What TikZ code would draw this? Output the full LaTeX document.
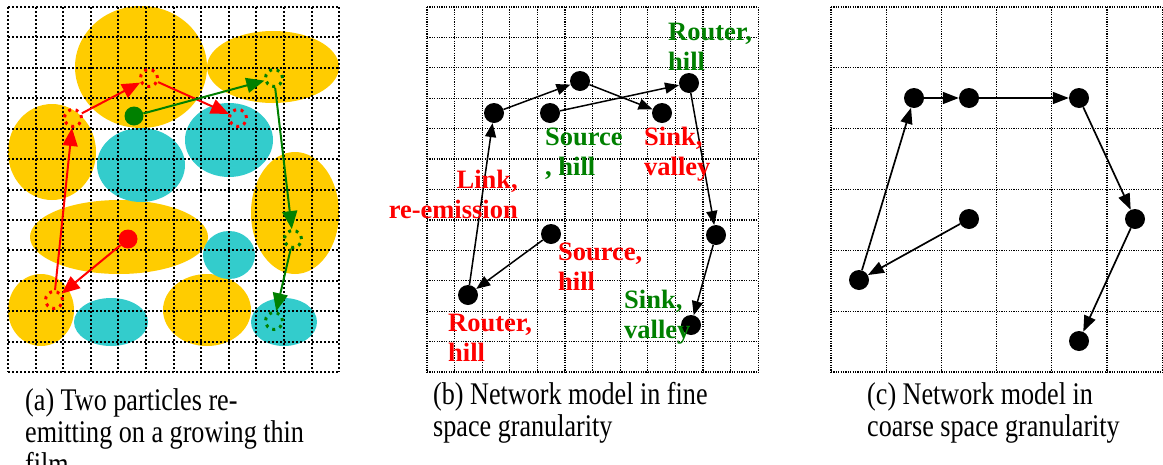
\documentclass[tikz,border=0pt]{standalone}
\usepackage{fontspec}
\setmainfont{Liberation Serif}
\newfontfamily\capfont[FakeStretch=0.83]{Liberation Serif}
\usetikzlibrary{arrows.meta}

\begin{document}
\begin{tikzpicture}[x=1pt, y=-1pt]
    \definecolor{filmy}{RGB}{255,204,0}
    \definecolor{filmc}{RGB}{51,204,204}
    \definecolor{pgreen}{RGB}{0,128,0}
    \definecolor{pred}{RGB}{255,0,0}
    \tikzset{
        finegrid/.style={line width=2pt, dash pattern=on 2pt off 2pt},
        netgrid/.style={line width=1.3pt, dash pattern=on 1.2pt off 1.2pt},
        particle/.style={circle, fill=#1, minimum size=19pt, inner sep=0pt},
        ghost/.style={circle, draw=#1, line width=3pt, dash pattern=on 3pt off 4.6pt,
            minimum size=17pt, inner sep=0pt},
        hop/.style={draw=#1, line width=2pt, -{Triangle[length=18pt,width=15pt,fill=#1]}},
        site/.style={circle, fill=black, minimum size=20pt, inner sep=0pt},
        link/.style={line width=1.5pt, -{Triangle[length=14pt,width=11pt]}},
        coarselink/.style={line width=1.7pt, -{Triangle[length=16pt,width=12pt]}},
        tag/.style={font=\fontsize{26.5}{30}\selectfont\bfseries, text=#1, inner sep=0pt},
        subcap/.style={font=\capfont\fontsize{31.5}{31.8}\selectfont, inner sep=0pt,
            align=left, anchor=base west},
    }
    \useasboundingbox (0,0) rectangle (1163,464);

    \fill[filmy] (141,67) ellipse [x radius=66, y radius=61];
    \fill[filmy] (273,67) ellipse [x radius=66, y radius=36];
    \fill[filmy] (52,152) ellipse [x radius=44, y radius=48];
    \fill[filmy] (119,237) ellipse [x radius=89, y radius=37];
    \fill[filmy] (295,213) ellipse [x radius=44, y radius=61];
    \fill[filmy] (41,310) ellipse [x radius=33, y radius=36];
    \fill[filmy] (207,310) ellipse [x radius=44, y radius=36];
    \fill[filmc] (141,165) ellipse [x radius=44, y radius=37];
    \fill[filmc] (229,140) ellipse [x radius=44, y radius=37];
    \fill[filmc] (229,255) ellipse [x radius=26, y radius=24];
    \fill[filmc] (111,322) ellipse [x radius=37, y radius=24];
    \fill[filmc] (284,322) ellipse [x radius=33, y radius=24];

    \foreach \i in {0,...,12} {
        \draw[finegrid] ({8+27.6*\i},7) -- ({8+27.6*\i},372);
        \draw[finegrid] (8,{7+30.42*\i}) -- (339,{7+30.42*\i});
        \draw[netgrid] ({427+27.6*\i},7) -- ({427+27.6*\i},372);
        \draw[netgrid] (427,{7+30.42*\i}) -- (758,{7+30.42*\i});
    }
    \foreach \i in {0,...,6} {
        \draw[netgrid] ({831+55.2*\i},7) -- ({831+55.2*\i},372);
        \draw[netgrid] (831,{7+60.83*\i}) -- (1162,{7+60.83*\i});
    }

    \node[particle=pred] (rs) at (128,239) {};
    \node[ghost=pred] (ra) at (54,300) {};
    \node[ghost=pred] (rb) at (73,118) {};
    \node[ghost=pred] (rc) at (149,78) {};
    \node[ghost=pred] (rd) at (238,118) {};
    \node[particle=pgreen] (gs) at (134,116) {};
    \node[ghost=pgreen] (ga) at (274,78) {};
    \node[ghost=pgreen] (gb) at (293,239) {};
    \node[ghost=pgreen] (gc) at (274,321) {};
    \draw[hop=pred] (rs) -- (ra);
    \draw[hop=pred] (ra) -- (rb);
    \draw[hop=pred] (rb) -- (rc);
    \draw[hop=pred] (rc) -- (rd);
    \draw[hop=pgreen] (gs) -- (ga);
    \draw[hop=pgreen] (ga) -- (gb);
    \draw[hop=pgreen] (gb) -- (gc);

    \node[site] (fa) at (494,113) {};
    \node[site] (fb) at (580,81) {};
    \node[site] (fc) at (550,113) {};
    \node[site] (fd) at (662,113) {};
    \node[site] (fe) at (689,83) {};
    \node[site] (ff) at (716,235) {};
    \node[site] (fg) at (691,325) {};
    \node[site] (fh) at (551,234) {};
    \node[site] (fi) at (468,295) {};
    \draw[link] (fi) -- (fa);
    \draw[link] (fa) -- (fb);
    \draw[link] (fb) -- (fd);
    \draw[link] (fc) -- (fe);
    \draw[link] (fe) -- (ff);
    \draw[link] (ff) -- (fg);
    \draw[link] (fh) -- (fi);

    \node[tag=pgreen, align=left, anchor=base west] (routertop) at (668,70.5) {Router,\\hill};
    \node[tag=pgreen, align=left, anchor=base west] (sourcemid) at (545,175) {Source\\, hill};
    \node[tag=pred, align=left, anchor=base west] (sinkmid) at (644,175.5) {Sink,\\valley};
    \node[tag=pred, align=right, anchor=base east] (linkre) at (518,218) {Link,\\re-emission};
    \node[tag=pred, align=left, anchor=base west] (sourcelow) at (558,290) {Source,\\hill};
    \node[tag=pred, align=left, anchor=base west] (routerlow) at (448,361.7) {Router,\\hill};
    \node[tag=pgreen, align=left, anchor=base west] (sinklow) at (624,338.3) {Sink,\\valley};

    \node[site] (ca) at (914,98) {};
    \node[site] (cb) at (969,98) {};
    \node[site] (cc) at (1079,98) {};
    \node[site] (cd) at (1135,219) {};
    \node[site] (ce) at (1079,341) {};
    \node[site] (cf) at (969,219) {};
    \node[site] (cg) at (859,280) {};
    \draw[coarselink] (cg) -- (ca);
    \draw[coarselink] (ca) -- (cb);
    \draw[coarselink] (cb) -- (cc);
    \draw[coarselink] (cc) -- (cd);
    \draw[coarselink] (cd) -- (ce);
    \draw[coarselink] (cf) -- (cg);

    \node[subcap] (capa) at (25,474.3) {(a) Two particles re-\\emitting on a growing thin\\film};
    \node[subcap] (capb) at (433,436.7) {(b) Network model in fine\\space granularity};
    \node[subcap] (capc) at (867,436.7) {(c) Network model in\\coarse space granularity};
\end{tikzpicture}
\end{document}
